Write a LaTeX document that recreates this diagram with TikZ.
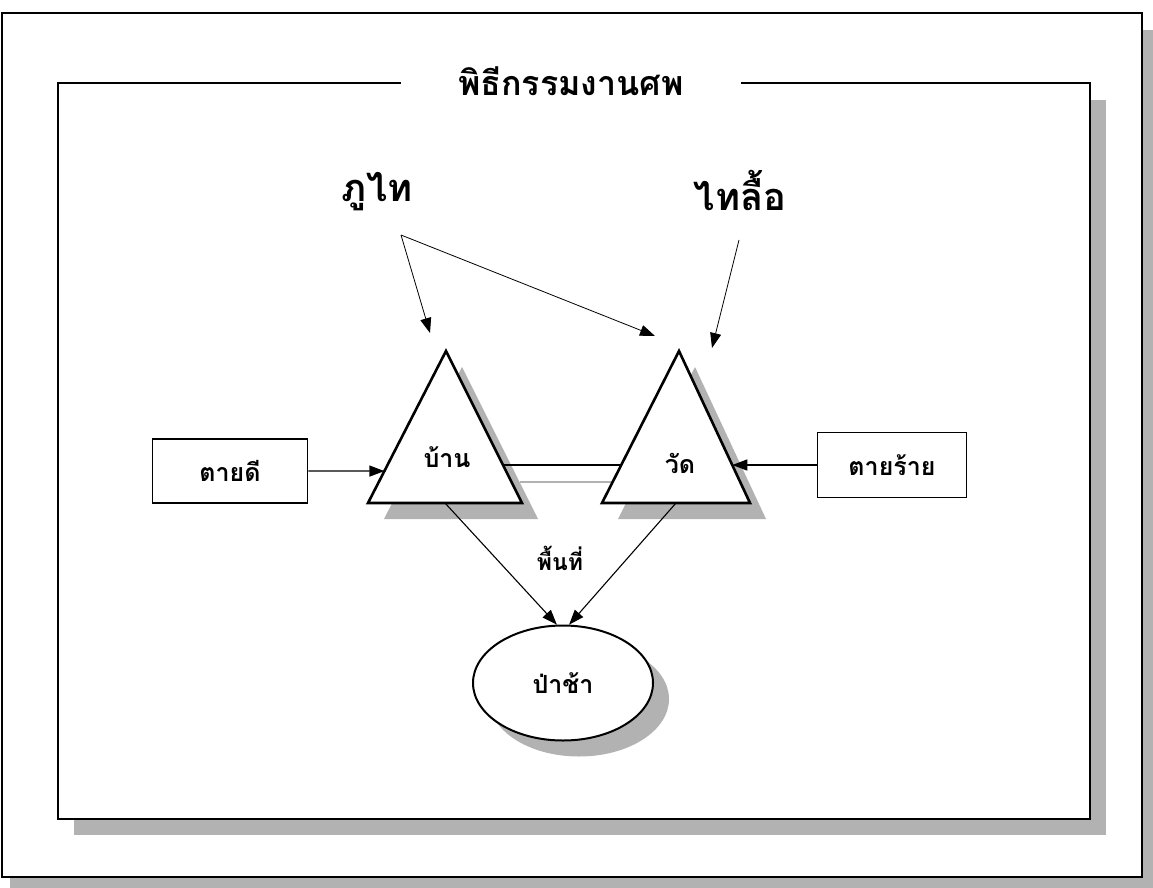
\documentclass[tikz,border=0pt]{standalone}
\usepackage{fontspec}
\newfontfamily\thaifont[Script=Thai]{Loma}
\usetikzlibrary{arrows.meta,calc,shapes.geometric,shadows}

\tikzset{
  shade/.style={fill=black!30, draw=none},
  frame/.style={draw, fill=white, line width=1.4pt},
  tri/.style={draw, fill=white, line width=2.6pt, line join=miter},
  box/.style={draw, line width=1.5pt, minimum width=155pt, minimum height=64pt,
    font=\thaifont\bfseries\fontsize{25}{27}\selectfont},
  lbl/.style={font=\thaifont\bfseries\fontsize{25}{27}\selectfont},
  group/.style={font=\thaifont\bfseries\fontsize{38}{42}\selectfont},
  thin/.style={line width=0.8pt},
}

\begin{document}
\begin{tikzpicture}[x=1pt, y=-1pt, >={Triangle[length=15pt,width=11pt]}]
    \useasboundingbox (0,0) rectangle (1153,888);
    \fill[white] (0,0) rectangle (1153,888);

    % frames
    \fill[shade] (10,30) rectangle (1153,888);
    \draw[frame] (2,13) rectangle (1142,877);
    \fill[shade] (74,100) rectangle (1106,835);
    \draw[frame] (58,83) rectangle (1090,819);
    \node[fill=white, minimum width=340pt, font=\thaifont\bfseries\fontsize{34}{38}\selectfont] (title) at (571,81) {พิธีกรรมงานศพ};

    % groups
    \node[group] (phutai) at (377,192) {ภูไท};
    \node[group] (tailue) at (740,190) {ไทลื้อ};
    \coordinate (phutai-out) at (401,235);
    \coordinate (tailue-out) at (739,240);

    % triangles
    \coordinate (ban-top) at (446,351);
    \coordinate (ban-l) at (368,503);
    \coordinate (ban-r) at (522,503);
    \coordinate (wat-top) at (679,351);
    \coordinate (wat-l) at (602,503);
    \coordinate (wat-r) at (750,503);
    \fill[shade] ([shift={(16,16)}]ban-top) -- ([shift={(16,16)}]ban-l) -- ([shift={(16,16)}]ban-r) -- cycle;
    \fill[shade] ([shift={(16,16)}]wat-top) -- ([shift={(16,16)}]wat-l) -- ([shift={(16,16)}]wat-r) -- cycle;
    \draw[black!30, line width=1.2pt] ([shift={(17,17)}]$(ban-r)!0.25!(ban-top)$) -- ([shift={(17,17)}]$(wat-l)!0.25!(wat-top)$);
    \draw[tri] (ban-top) -- (ban-l) -- (ban-r) -- cycle;
    \draw[tri] (wat-top) -- (wat-l) -- (wat-r) -- cycle;
    \node[lbl] (ban) at (447,457) {บ้าน};
    \node[lbl] (wat) at (680,463) {วัด};

    % boxes and cemetery
    \node[box] (taidee) at (230,471) {ตายดี};
    \node[box, minimum width=149pt, minimum height=65pt] (tairai) at (892,465) {ตายร้าย};
    \node[ellipse, draw, fill=white, line width=2pt, minimum width=180pt, minimum height=115pt,
      drop shadow={shadow xshift=16pt, shadow yshift=-16pt, fill=black!30, opacity=1}, lbl] (pachaa) at (563,683) {ป่าช้า};
    \node[lbl, font=\thaifont\bfseries\fontsize{23}{25}\selectfont] (area) at (560,558) {พื้นที่};

    % connectors
    \draw[thin, ->] (phutai-out) -- (430,333);
    \draw[thin, ->] (phutai-out) -- (655,336);
    \draw[thin, ->] (tailue-out) -- (712,348);
    \draw[line width=1.3pt, ->] (taidee.east) -- ($(ban-l)!0.21!(ban-top)$);
    \draw[line width=1.3pt, ->] (tairai.west) -- ($(wat-r)!0.25!(wat-top)$);
    \draw[line width=1.3pt] ($(ban-r)!0.25!(ban-top)$) -- ($(wat-l)!0.25!(wat-top)$);
    \draw[line width=1.1pt, ->] ($(ban-l)!0.5!(ban-r)$) -- (pachaa.96);
    \draw[line width=1.1pt, ->] ($(wat-l)!0.5!(wat-r)$) -- (pachaa.84);
\end{tikzpicture}
\end{document}
